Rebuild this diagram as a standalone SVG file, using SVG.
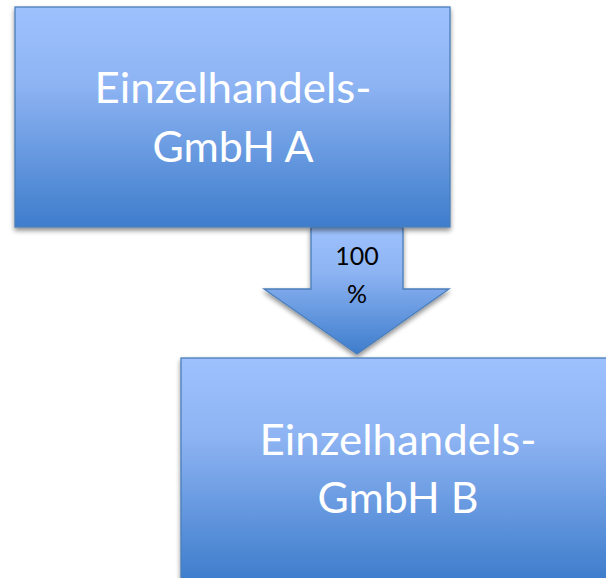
<svg xmlns="http://www.w3.org/2000/svg" width="606" height="578" viewBox="0 0 606 578">
<defs>
<linearGradient id="g" x1="0" y1="0" x2="0" y2="1">
<stop offset="0" stop-color="#9dc1fd"/>
<stop offset="0.35" stop-color="#8eb4f3"/>
<stop offset="1" stop-color="#3e7dcc"/>
</linearGradient>
<filter id="sh" x="-10%" y="-10%" width="120%" height="125%">
<feGaussianBlur in="SourceAlpha" stdDeviation="2.5"/>
<feOffset dx="0" dy="3" result="b"/>
<feComponentTransfer><feFuncA type="linear" slope="0.45"/></feComponentTransfer>
<feMerge><feMergeNode/><feMergeNode in="SourceGraphic"/></feMerge>
</filter>
</defs>
<style>
.box{fill:url(#g);stroke:#4a7ebb;stroke-width:1.3;filter:url(#sh)}
.t{font-family:Lato,"Open Sans","Liberation Sans",sans-serif;font-size:42px;fill:#ffffff;text-anchor:middle}
.s{font-family:Lato,"Open Sans","Liberation Sans",sans-serif;font-size:25px;fill:#000000;text-anchor:middle}
</style>
<rect width="606" height="578" fill="#ffffff"/>
<g id="connectors">
<path class="box" d="M311,227 L403,227 L403,289 L449,289 L357,354 L264,289 L311,289 Z"/>
<text class="s" x="357" y="265">100</text>
<text class="s" x="357" y="303">%</text>
</g>
<g id="nodeA">
<rect class="box" x="15" y="7" width="435" height="220"/>
<text class="t" x="233" y="103" textLength="277" lengthAdjust="spacingAndGlyphs">Einzelhandels-</text>
<text class="t" x="233" y="162" textLength="161" lengthAdjust="spacingAndGlyphs">GmbH A</text>
</g>
<g id="nodeB">
<rect class="box" x="181" y="358" width="435" height="222"/>
<text class="t" x="398" y="455" textLength="277" lengthAdjust="spacingAndGlyphs">Einzelhandels-</text>
<text class="t" x="398" y="513" textLength="161" lengthAdjust="spacingAndGlyphs">GmbH B</text>
</g>
</svg>
